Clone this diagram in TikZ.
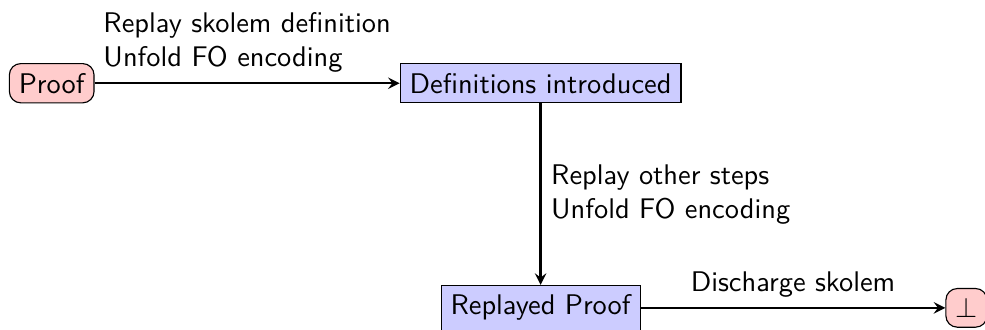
\documentclass[tikz,border=0pt]{standalone}
\usetikzlibrary{positioning}
\renewcommand{\familydefault}{\sfdefault}
\begin{document}
\begin{tikzpicture}[
  goal/.style={draw,rounded corners,fill=red!20},
  stage/.style={draw,fill=blue!20},
  pass/.style={thick,-stealth}
]
\useasboundingbox (0,0) rectangle (12.19,-4.08);
\node[goal] (proof) at (0.64,-1.03) {Proof};
\node[stage] (defs) at (6.69,-1.03) {Definitions introduced};
\node[stage] (replayed) at (6.69,-3.81) {Replayed Proof};
\node[goal] (bot) at (11.96,-3.81) {$\bot$};

\draw[pass] (proof) -- node[above,align=left]
  {Replay skolem definition\\Unfold FO encoding} (defs);
\draw[pass] (defs) -- node[right,align=left]
  {Replay other steps\\Unfold FO encoding} (replayed);
\draw[pass] (replayed) -- node[above] {Discharge skolem} (bot);
\end{tikzpicture}
\end{document}
